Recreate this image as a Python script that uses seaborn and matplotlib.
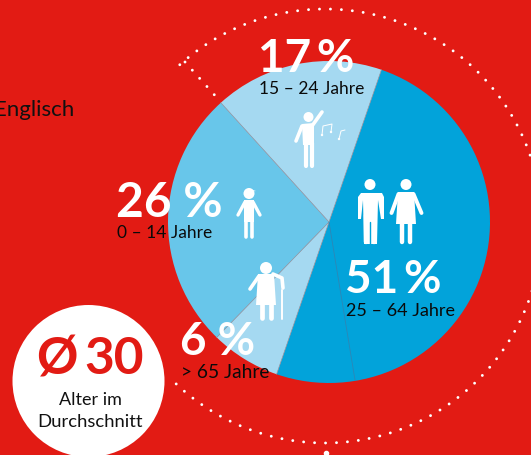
import numpy as np
import matplotlib.pyplot as plt
from matplotlib.patches import Circle, Polygon
import seaborn as sns

# Anteile je Altersgruppe: Winkel wie im Bild gemessen, Text wie im Bild gedruckt
groups = ['25-64 Jahre', '> 65 Jahre', '0-14 Jahre', '15-24 Jahre']
shares = [50, 7, 26, 17]
share_labels = ['51\u2009%', '6 %', '26 %', '17\u2009%']
age_labels = ['25 – 64 Jahre', '> 65 Jahre', '0 – 14 Jahre', '15 – 24 Jahre']

# Layout in Pixeln
label_x = [345, 180, 116, 258]
label_big_y = [293, 355, 217, 72]
label_small_y = [311, 373, 233, 89]
label_small_size = [13, 13.8, 12.5, 12.5]
label_big_size = [33, 33, 34.5, 33]
slice_colors = ['#02A3DA', '#A5D9F1', '#68C6EA', '#A5D9F1']

RED = '#E21B14'
WHITE = '#FFFFFF'
FONT = 'Lato'
PIE_X, PIE_Y, PIE_R = 329, 222, 161
START = -71

sns.set_theme(style='white')
plt.rcParams['font.family'] = [FONT, 'DejaVu Sans']

fig = plt.figure(figsize=(5.31, 4.55), dpi=100, facecolor=RED)
ax = fig.add_axes([0, 0, 1, 1])


def white_line(xs, ys, w):
    ax.plot(xs, ys, color=WHITE, lw=w, solid_capstyle='round', solid_joinstyle='round', zorder=5)


def white_shape(points):
    ax.add_patch(Polygon(points, color=WHITE, lw=0, zorder=5))


def head(x, y, r):
    ax.add_patch(Circle((x, y), r, color=WHITE, lw=0, zorder=5))


# gepunkteter Bogen
t = np.radians(np.linspace(-132, 136, 500))
dot_style = dict(color=WHITE, lw=2.1, dash_capstyle='round', dash_joinstyle='round',
                 linestyle=(0, (0.01, 3.75)), zorder=2)
ax.plot(325 + 217 * np.cos(t), 226 + 217 * np.sin(t), **dot_style)
ax.plot([185, 219], [62, 100], **dot_style)
ax.plot([326], [453], 'o', color=WHITE, ms=3, zorder=2)

# Torte (y-Achse ist umgedreht, daher counterclock=True)
ax.pie(shares, colors=slice_colors, startangle=START, counterclock=True,
       center=(PIE_X, PIE_Y), radius=PIE_R, frame=True,
       wedgeprops=dict(linewidth=0, zorder=3))
ax.set_xlim(0, 531)
ax.set_ylim(455, 0)
ax.set_aspect('equal')
ax.axis('off')

# nur die Trennlinien zwischen den Stuecken
bounds = START + 3.6 * np.cumsum([0] + shares[:-1])
for b in bounds:
    ax.plot([PIE_X, PIE_X + PIE_R * np.cos(np.radians(b))],
            [PIE_Y, PIE_Y + PIE_R * np.sin(np.radians(b))],
            color='#8FA0AE', lw=0.5, zorder=3)
ax.plot([PIE_X, 355], [PIE_Y, 380], color='#2E86B5', lw=0.6, zorder=3)

# Beschriftung
for big, small, x, yb, ys, fb, fs in zip(share_labels, age_labels, label_x, label_big_y,
                                         label_small_y, label_big_size, label_small_size):
    ax.text(x, yb, big, color=WHITE, fontsize=fb, fontweight='bold', ha='left', va='baseline', zorder=6)
    ax.text(x + 1, ys, small, color='#0A0A0A', fontsize=fs, ha='left', va='center', zorder=6)

ax.text(-6, 110, 'Englisch', color='#111111', fontsize=16, ha='left', va='center', zorder=6)

# Mann
head(370, 184.5, 5.5)
white_shape([(361, 193), (382, 193), (384, 197), (384, 219), (381, 219), (378, 200), (377, 244),
             (364, 244), (363, 200), (361, 219), (358, 219), (358, 197)])
white_line([366, 366], [215, 242], 3.2)
white_line([373.5, 373.5], [215, 242], 3.2)
ax.plot([370, 370], [222, 245], color='#02A3DA', lw=1, zorder=5.5)

# Frau
head(406, 184.5, 5.5)
white_shape([(398, 192), (414, 192), (416, 224), (396, 224)])
white_line([398.5, 391.5], [194, 213], 2.8)
white_line([413.5, 421.5], [194, 213], 2.8)
white_line([402, 402], [222, 242], 3.2)
white_line([410, 410], [222, 242], 3.2)

# Kind
head(249, 193.5, 5.5)
white_shape([(244, 200), (254, 200), (254, 222), (244, 222)])
white_line([245, 238], [202, 215], 2.4)
white_line([253, 260], [202, 215], 2.4)
white_shape([(249, 189), (256, 191), (250, 192)])
white_line([246, 246], [220, 237], 2.6)
white_line([252, 252], [220, 237], 2.6)

# Taenzer
head(308.5, 117, 5)
white_shape([(302, 124), (314, 123), (314, 145), (303, 145)])
white_line([312, 322], [126, 112], 2.6)
white_line([302, 296], [126, 141], 2.6)
white_line([305.5, 305.5], [143, 166], 3)
white_line([312, 312], [143, 166], 3)
white_line([322, 323, 332, 331], [135, 126, 124, 132], 0.7)
white_line([339, 341, 345], [139, 131, 130], 0.7)
for nx, ny in [(322, 135), (331, 132), (339, 139)]:
    head(nx, ny, 1.2)

# alte Frau mit Stock
head(266, 268, 6)
white_shape([(258, 274), (274, 274), (276, 305), (256, 305)])
white_line([259, 250], [276, 289], 2.6)
white_line([273, 282, 283], [274, 278, 288], 2.6)
white_line([282, 282], [290, 319], 1.4)
white_line([262, 262], [303, 318], 3.4)
white_line([271, 271], [303, 318], 3.4)

# Kreis Durchschnittsalter
ax.add_patch(Circle((88.5, 381), 76, color=WHITE, lw=0, zorder=6))
ax.text(57, 360, 'Ø', color=RED, fontsize=37, fontweight='bold', ha='center', va='center', zorder=7)
ax.text(114, 360, '30', color=RED, fontsize=37, fontweight='bold', ha='center', va='center', zorder=7)
ax.text(90, 400, 'Alter im', color='#111111', fontsize=13, ha='center', va='center', zorder=7)
ax.text(90, 422, 'Durchschnitt', color='#111111', fontsize=13.3, ha='center', va='center', zorder=7)

fig.savefig('out.png', dpi=100, facecolor=RED)
plt.close()
